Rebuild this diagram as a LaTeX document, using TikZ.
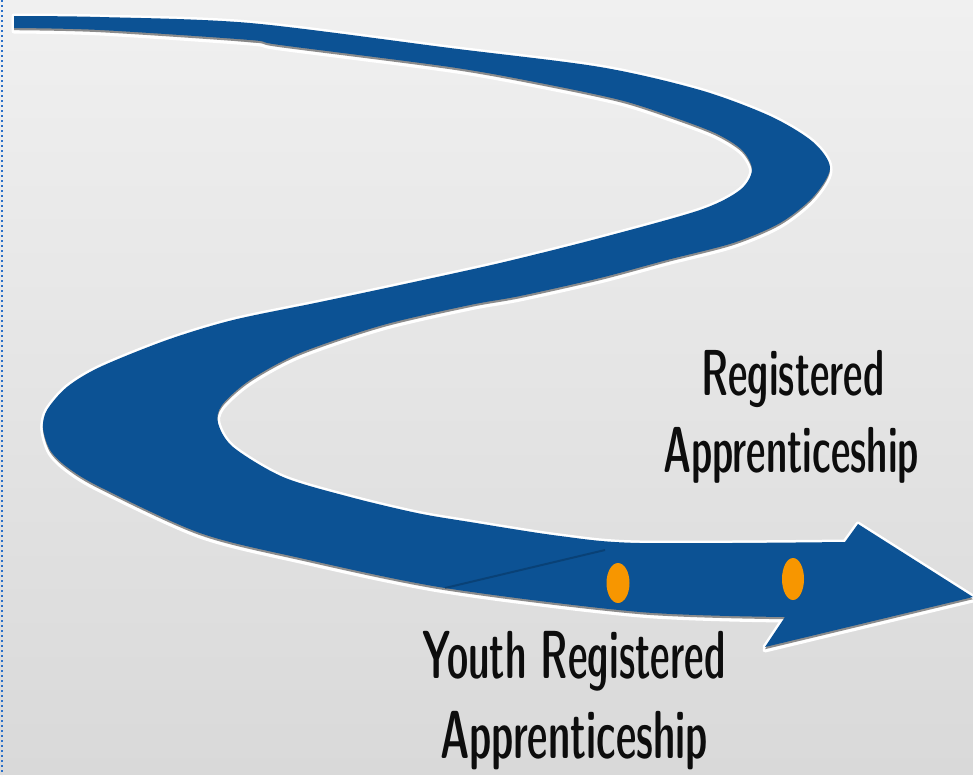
\documentclass[tikz,border=0pt]{standalone}
\usepackage{graphicx}
\definecolor{roadblue}{RGB}{12,82,148}
\definecolor{dotorange}{RGB}{247,150,0}
\definecolor{bgtop}{RGB}{240,240,240}
\definecolor{bgbot}{RGB}{217,217,217}
\definecolor{framedot}{RGB}{40,110,200}
\tikzset{
  lab/.style={font={\fontsize{65}{70}\fontseries{sbc}\sffamily\selectfont}, text=black!95, inner sep=0pt, anchor=base},
  labbig/.style={lab, font={\fontsize{68}{72}\fontseries{sbc}\sffamily\selectfont}},
  dot/.style={fill=dotorange, draw=none},
}
\newcommand\roadpath{%
  plot[smooth, tension=0.5] coordinates {(14,16) (100,17) (250,23) (450,48) (600,67) (700,90) (770,116) (813,142) (830,168) (813,197) (780,223) (733,243) (667,260) (600,278) (520,296) (470,305) (383,325) (300,353) (250,380) (222,405) (218,423) (233,447) (283,477) (350,497) (417,513) (470,522) (560,536) (640,543) (845,542)}
  -- (858,524) -- (973,597) -- (765,647)
  -- plot[smooth, tension=0.5] coordinates {(785,617) (640,612) (445,588) (300,558) (200,533) (100,487) (67,467) (50,450) (43,428) (47,410) (67,387) (100,367) (167,340) (233,320) (320,302) (400,285) (500,263) (600,238) (700,210) (740,190) (752,170) (742,150) (715,133) (670,116) (620,100) (540,83) (450,67) (280,45) (250,40) (100,30) (14,28)}
  -- cycle}
\begin{document}
\begin{tikzpicture}[x=1pt,y=-1pt]
\useasboundingbox (0,0) rectangle (973,774);
\shade[top color=bgtop, bottom color=bgbot] (0,0) rectangle (973,774);
\draw[framedot, line width=2pt, dash pattern=on 2pt off 3pt] (1.5,0) -- (1.5,774);
% road: glow, shadow, body
\draw[white, line width=5pt, line join=round] \roadpath;
\draw[white, line width=5pt, line join=round, shift={(0,3)}] \roadpath;
\fill[black!45, shift={(0,2.2)}] \roadpath;
\fill[roadblue] \roadpath;
% seams
\draw[roadblue!60!black, line width=2pt, opacity=0.5] (445,588) -- (605,550);
\draw[black!50, line width=2pt, opacity=0.4] (236,40) -- (256,42);
% dots
\fill[dot] (618,583) ellipse [x radius=11.5, y radius=20];
\fill[dot] (793,579) ellipse [x radius=11, y radius=21];
% labels
\node[lab] (r1) at (793,395) {\scalebox{0.68}[1]{Registered}};
\node[lab] (r2) at (791,472) {\scalebox{0.68}[1]{Apprenticeship}};
\node[labbig] (y1) at (574,678) {\scalebox{0.655}[1]{Youth Registered}};
\node[labbig] (y2) at (574,758) {\scalebox{0.68}[1]{Apprenticeship}};
\end{tikzpicture}
\end{document}
